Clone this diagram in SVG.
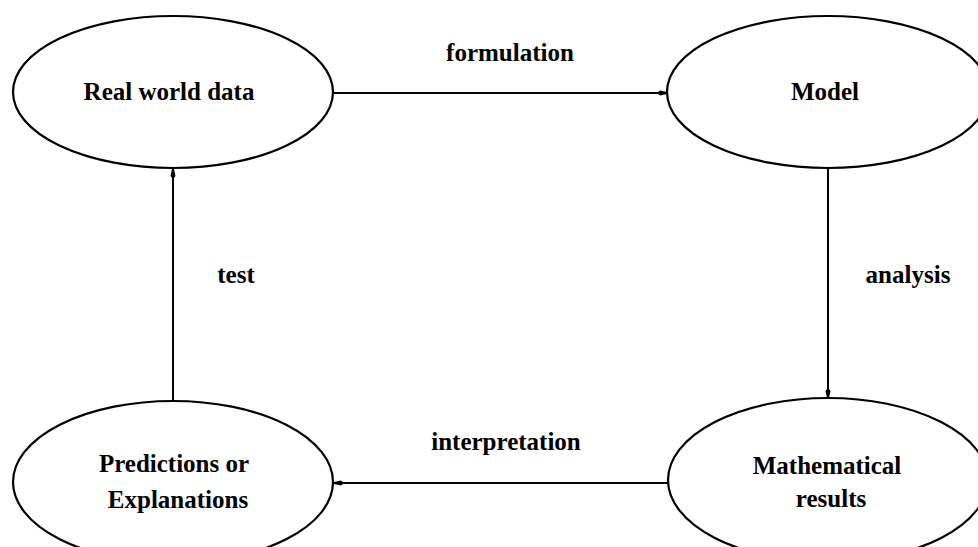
<svg xmlns="http://www.w3.org/2000/svg" width="978" height="547" viewBox="0 0 978 547">
<style>
.n{fill:#fff;stroke:#000;stroke-width:2.2}
.t{font-family:"Liberation Serif","Times New Roman",serif;font-weight:bold;font-size:25px;fill:#000;text-anchor:middle}
.c{stroke:#000;stroke-width:2;fill:none;marker-end:url(#ah)}
</style>
<defs>
<marker id="ah" markerWidth="10" markerHeight="6" refX="10" refY="3" orient="auto" markerUnits="userSpaceOnUse">
<path d="M0,3 L3,0.5 L10,2 L10,4 L3,5.5 Z" fill="#000"/>
</marker>
</defs>
<rect width="978" height="547" fill="#fff"/>
<g id="connectors">
<line class="c" x1="334" y1="93" x2="667" y2="93"/>
<line class="c" x1="828" y1="168" x2="828" y2="398"/>
<line class="c" x1="668" y1="483" x2="334" y2="483"/>
<line class="c" x1="173" y1="401" x2="173" y2="169"/>
<text class="t" x="510" y="61">formulation</text>
<text class="t" x="908" y="283">analysis</text>
<text class="t" x="506" y="450">interpretation</text>
<text class="t" x="236" y="283">test</text>
</g>
<g id="real-world-data">
<ellipse class="n" cx="173" cy="92" rx="160" ry="76"/>
<text class="t" x="169" y="100">Real world data</text>
</g>
<g id="model">
<ellipse class="n" cx="828" cy="92" rx="161" ry="76"/>
<text class="t" x="825" y="100">Model</text>
</g>
<g id="mathematical-results">
<ellipse class="n" cx="828" cy="480" rx="160" ry="82"/>
<text class="t" x="827" y="474">Mathematical</text>
<text class="t" x="831" y="507">results</text>
</g>
<g id="predictions">
<ellipse class="n" cx="173" cy="482" rx="160" ry="81"/>
<text class="t" x="174" y="472">Predictions or</text>
<text class="t" x="178" y="508">Explanations</text>
</g>
</svg>
